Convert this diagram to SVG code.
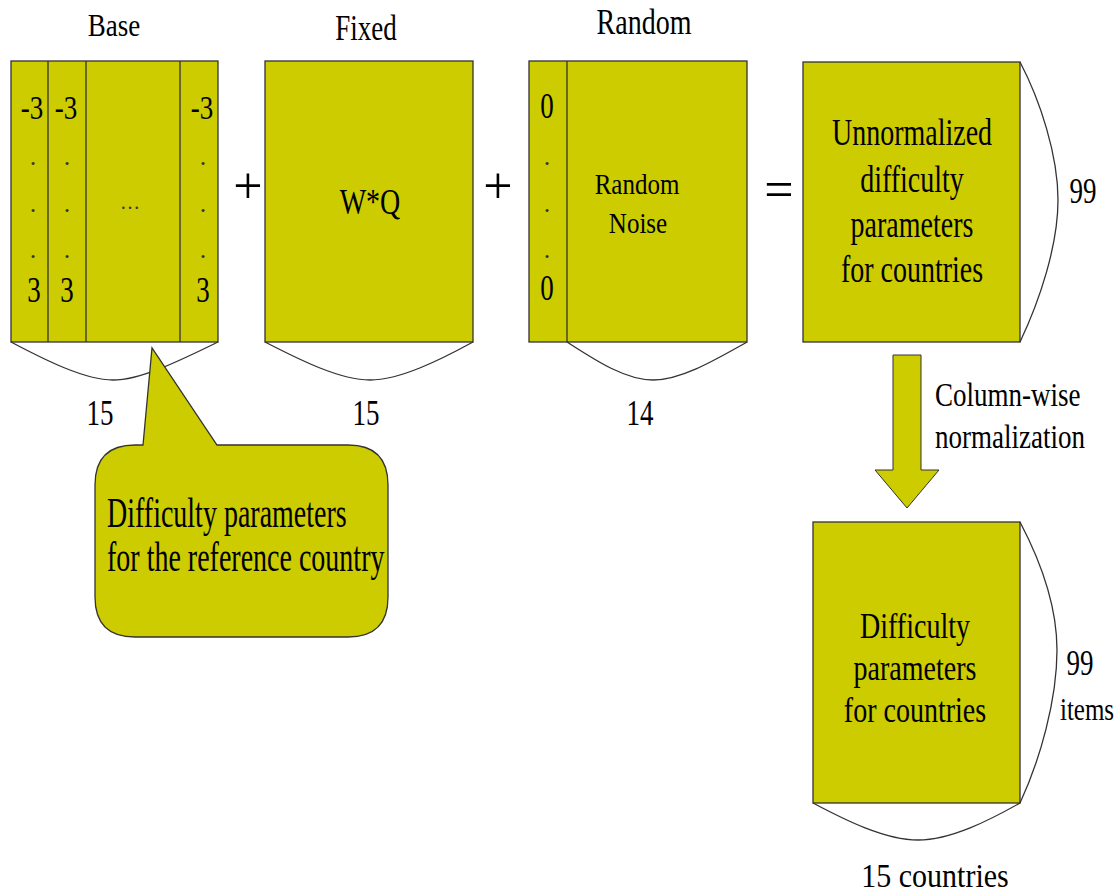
<svg xmlns="http://www.w3.org/2000/svg" width="1120" height="894" viewBox="0 0 1120 894" font-family="'Liberation Serif', 'Times New Roman', 'DejaVu Serif', serif">
<style>
.box{fill:#cccc00;stroke:#333;stroke-width:1.3}
.sep{stroke:#333;stroke-width:1.3;fill:none}
.brace{fill:none;stroke:#333;stroke-width:1.3}
text{font-family:'Liberation Serif','Times New Roman','DejaVu Serif',serif;fill:#000}
.t28{font-size:28px}
.t27{font-size:27px}
.t25{font-size:25px}
.dot{font-size:26px;fill:#333}
.op{font-size:52px}
.m{text-anchor:middle}
</style>
<rect width="1120" height="894" fill="#fff"/>

<g id="base">
<rect class="box" x="11" y="61" width="207" height="281"/>
<line class="sep" x1="48" y1="61" x2="48" y2="342"/>
<line class="sep" x1="86" y1="61" x2="86" y2="342"/>
<line class="sep" x1="180" y1="61" x2="180" y2="342"/>
<text class="t27 m" transform="matrix(1 0 0 1.15 114 36)">Base</text>
<text class="t27 m" transform="matrix(1 0 0 1.25 32 119)">-3</text>
<text class="t27 m" transform="matrix(1 0 0 1.25 66 119)">-3</text>
<text class="t27 m" transform="matrix(1 0 0 1.25 202 119)">-3</text>
<text class="dot m" x="33" y="165">.</text>
<text class="dot m" x="33" y="212">.</text>
<text class="dot m" x="33" y="258">.</text>
<text class="dot m" x="67" y="165">.</text>
<text class="dot m" x="67" y="212">.</text>
<text class="dot m" x="67" y="258">.</text>
<text class="dot m" x="203" y="165">.</text>
<text class="dot m" x="203" y="212">.</text>
<text class="dot m" x="203" y="258">.</text>
<text class="dot m" x="130" y="209" style="font-size:20px">…</text>
<text class="t27 m" transform="matrix(1 0 0 1.3 34 302)">3</text>
<text class="t27 m" transform="matrix(1 0 0 1.3 67 302)">3</text>
<text class="t27 m" transform="matrix(1 0 0 1.3 203 302)">3</text>
<text class="t27 m" transform="matrix(1 0 0 1.35 100 425)">15</text>
</g>

<g id="fixed">
<rect class="box" x="265" y="61" width="208" height="281"/>
<text class="t27 m" transform="matrix(1 0 0 1.33 366 40)">Fixed</text>
<text class="t28 m" transform="matrix(1 0 0 1.3 370 214)">W*Q</text>
<text class="t27 m" transform="matrix(1 0 0 1.35 366 425)">15</text>
</g>

<g id="random">
<rect class="box" x="529" y="61" width="218" height="281"/>
<line class="sep" x1="567" y1="61" x2="567" y2="342"/>
<text class="t28 m" transform="matrix(1 0 0 1.3 644 34)">Random</text>
<text class="t27 m" transform="matrix(1 0 0 1.3 547 118)">0</text>
<text class="dot m" x="547" y="165">.</text>
<text class="dot m" x="547" y="212">.</text>
<text class="dot m" x="547" y="258">.</text>
<text class="t27 m" transform="matrix(1 0 0 1.3 547 300)">0</text>
<text class="t25 m" transform="matrix(1 0 0 1.22 637 194)">Random</text>
<text class="t25 m" transform="matrix(1 0 0 1.22 638 233)">Noise</text>
<text class="t27 m" transform="matrix(1 0 0 1.35 640 425)">14</text>
</g>

<g id="operators">
<text class="op m" x="248" y="203">+</text>
<text class="op m" x="498" y="203">+</text>
<text class="op m" x="779" y="207">=</text>
</g>

<g id="unnormalized">
<rect class="box" x="803" y="62" width="217" height="280"/>
<text class="t28 m" transform="matrix(1 0 0 1.35 912 145)">Unnormalized</text>
<text class="t28 m" transform="matrix(1 0 0 1.35 912 192)">difficulty</text>
<text class="t28 m" transform="matrix(1 0 0 1.35 912 237)">parameters</text>
<text class="t28 m" transform="matrix(1 0 0 1.35 912 282)">for countries</text>
<text class="t27 m" transform="matrix(1 0 0 1.3 1083 203)">99</text>
</g>

<g id="normalized">
<rect class="box" x="813" y="522" width="207" height="281"/>
<text class="t28 m" transform="matrix(1 0 0 1.25 915 638)">Difficulty</text>
<text class="t28 m" transform="matrix(1 0 0 1.25 915 680)">parameters</text>
<text class="t28 m" transform="matrix(1 0 0 1.25 915 722)">for countries</text>
<text class="t27 m" transform="matrix(1 0 0 1.3 1080 675)">99</text>
<text class="t25 m" transform="matrix(1 0 0 1.3 1087 720)">items</text>
<text class="t28 m" style="font-size:30px" transform="matrix(1 0 0 1.15 935 887)">15 countries</text>
</g>

<g id="braces">
<path class="brace" d="M11,342 C45,360 85,380 113,380 C141,380 181,360 218,342"/>
<path class="brace" d="M265,342 C300,360 340,380 370,380 C400,380 440,360 473,342"/>
<path class="brace" d="M567,342 C595,360 625,380 653,380 C681,380 715,360 747,342"/>
<path class="brace" d="M1020,62 C1040,100 1058,155 1058,200 C1058,245 1040,300 1020,342"/>
<path class="brace" d="M1020,522 C1040,560 1057,605 1057,650 C1057,700 1040,760 1020,803"/>
<path class="brace" d="M813,803 C845,820 885,840 918,840 C951,840 990,820 1020,803"/>
</g>

<g id="callout">
<path class="box" d="M143,445 L152,348 L217,445 L348,445 Q388,445 388,485 L388,597 Q388,637 348,637 L135,637 Q95,637 95,597 L95,485 Q95,445 135,445 Z"/>
<text class="t28" transform="matrix(1 0 0 1.5 107 527)">Difficulty parameters</text>
<text class="t28" transform="matrix(1 0 0 1.5 107 571)">for the reference country</text>
</g>

<g id="connectors">
<path class="box" d="M893,355 L921,355 L921,470 L939,470 L907,508 L875,470 L893,470 Z" style="stroke-width:1"/>
<text class="t27" transform="matrix(1 0 0 1.27 935 406)">Column-wise</text>
<text class="t27" transform="matrix(1 0 0 1.27 935 448)">normalization</text>
</g>
</svg>
